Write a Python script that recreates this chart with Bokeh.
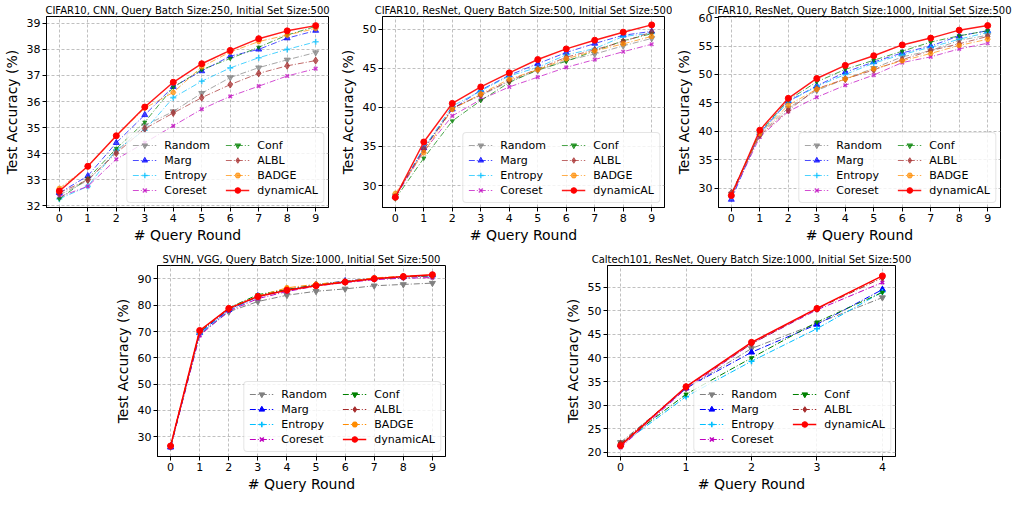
from bokeh.plotting import figure
from bokeh.layouts import column, row
from bokeh.models import Spacer, FixedTicker, Range1d
from bokeh.embed import file_html
from bokeh.resources import INLINE

rounds10 = [0, 1, 2, 3, 4, 5, 6, 7, 8, 9]
rounds5 = [0, 1, 2, 3, 4]

# Panel A: CIFAR10, CNN, batch 250
a_random = [32.42, 32.97, 34.08, 35.08, 35.62, 36.32, 36.92, 37.30, 37.60, 37.88]
a_marg = [32.50, 33.15, 34.42, 35.49, 36.57, 37.17, 37.74, 38.00, 38.43, 38.72]
a_entropy = [32.27, 32.75, 34.15, 34.90, 36.15, 36.78, 37.29, 37.68, 38.00, 38.29]
a_coreset = [32.35, 32.75, 33.79, 34.42, 35.07, 35.71, 36.20, 36.59, 36.98, 37.26]
a_conf = [32.27, 33.05, 34.20, 35.21, 36.55, 37.22, 37.65, 38.08, 38.55, 38.88]
a_albl = [32.50, 33.00, 34.02, 34.96, 35.56, 36.15, 36.65, 37.08, 37.37, 37.57]
a_badge = [32.67, 33.50, 34.68, 35.75, 36.35, 37.33, 37.90, 38.30, 38.55, 38.80]
a_dynamic = [32.57, 33.52, 34.69, 35.79, 36.74, 37.45, 37.96, 38.41, 38.71, 38.91]

# Panel B: CIFAR10, ResNet, batch 500
b_random = [28.7, 34.6, 39.9, 41.5, 43.3, 44.7, 46.0, 46.8, 47.85, 48.8]
b_marg = [28.6, 34.8, 39.75, 42.2, 44.1, 45.57, 47.0, 48.15, 49.2, 49.7]
b_entropy = [28.6, 34.8, 40.15, 42.1, 44.0, 45.1, 46.7, 47.5, 49.05, 49.45]
b_coreset = [28.5, 34.4, 38.9, 41.0, 42.6, 43.85, 45.1, 46.1, 47.1, 48.06]
b_conf = [28.3, 33.5, 38.25, 40.86, 43.16, 44.8, 45.86, 47.2, 48.5, 49.4]
b_albl = [28.6, 34.6, 39.85, 41.6, 43.4, 44.9, 46.4, 47.35, 48.4, 49.6]
b_badge = [29.0, 34.2, 39.75, 41.7, 43.6, 44.8, 46.2, 47.2, 48.1, 49.06]
b_dynamic = [28.5, 35.57, 40.5, 42.6, 44.4, 46.1, 47.46, 48.57, 49.6, 50.53]

# Panel C: CIFAR10, ResNet, batch 1000
c_random = [29.0, 39.5, 44.1, 47.2, 49.2, 51.1, 53.1, 54.2, 56.0, 56.9]
c_marg = [28.0, 39.7, 45.3, 48.0, 50.4, 52.2, 53.8, 55.0, 56.8, 57.7]
c_entropy = [28.5, 39.6, 45.2, 47.9, 50.0, 52.0, 53.5, 54.8, 56.2, 57.4]
c_coreset = [28.5, 39.0, 43.5, 46.0, 48.1, 49.9, 52.1, 53.1, 54.5, 55.5]
c_conf = [28.9, 39.9, 45.5, 48.7, 50.9, 52.5, 54.1, 55.7, 56.8, 57.7]
c_albl = [29.2, 39.3, 43.7, 47.5, 49.2, 50.8, 52.6, 54.2, 55.4, 56.7]
c_badge = [28.7, 39.6, 44.6, 47.4, 49.2, 51.0, 52.4, 53.7, 55.1, 56.2]
c_dynamic = [28.7, 40.2, 45.8, 49.3, 51.6, 53.3, 55.2, 56.4, 57.8, 58.6]

# Panel D: SVHN, VGG, batch 1000
d_random = [26.2, 69.0, 77.5, 81.4, 83.8, 85.3, 86.2, 87.4, 87.9, 88.4]
d_marg = [26.0, 69.5, 78.3, 83.5, 85.9, 87.8, 89.2, 90.2, 90.8, 91.4]
d_entropy = [26.3, 69.0, 78.0, 83.2, 85.6, 87.5, 89.0, 90.0, 90.6, 91.1]
d_coreset = [26.0, 68.5, 77.8, 82.5, 85.2, 87.3, 88.6, 89.7, 90.3, 90.5]
d_conf = [26.4, 69.8, 79.0, 84.0, 86.0, 87.7, 89.0, 90.0, 90.8, 91.3]
d_albl = [26.5, 70.0, 78.5, 83.3, 85.8, 87.6, 88.9, 90.0, 90.7, 91.2]
d_badge = [26.6, 70.2, 78.9, 83.5, 86.6, 88.0, 89.0, 90.4, 91.0, 91.5]
d_dynamic = [26.5, 70.4, 78.8, 83.3, 85.7, 87.4, 88.8, 90.1, 90.9, 91.6]

# Panel E: Caltech101, ResNet, batch 1000 (no BADGE)
e_random = [22.1, 33.5, 42.0, 47.3, 52.8]
e_marg = [21.6, 33.6, 41.2, 47.1, 54.5]
e_entropy = [21.5, 31.8, 39.3, 46.2, 54.0]
e_coreset = [21.0, 33.5, 43.0, 50.2, 56.0]
e_conf = [21.8, 32.3, 40.0, 47.6, 53.9]
e_albl = [21.8, 33.8, 43.0, 50.4, 57.0]
e_dynamic = [21.4, 33.9, 43.3, 50.5, 57.4]

STYLE = {
    "Random": ("#808080", "inverted_triangle", 6),
    "Marg": ("#0000ff", "triangle", 6),
    "Entropy": ("#00bfff", "cross", 6),
    "Coreset": ("#bf00bf", "x", 5),
    "Conf": ("#008000", "inverted_triangle", 4),
    "ALBL": ("#a52a2a", "diamond", 7),
    "BADGE": ("#ff8c00", "hex", 5),
    "dynamicAL": ("#ff0000", "circle", 6),
}

FONT = "DejaVu Sans"


def make_fig(title, xs, series, yr, yticks, xr, width, height, top, right, alpha):
    p = figure(width=width, height=height, output_backend="svg", toolbar_location=None,
               x_range=Range1d(*xr), y_range=Range1d(*yr),
               min_border_left=42, min_border_right=right, min_border_top=top, min_border_bottom=36)
    p.title.text = title
    p.title.align = "center"
    p.title.text_font = FONT
    p.title.text_font_size = "10px"
    p.title.text_font_style = "normal"
    p.title.text_color = "black"
    p.title.standoff = 2
    p.outline_line_color = "black"
    p.outline_line_width = 1
    p.background_fill_color = "white"
    for ax in (p.xaxis, p.yaxis):
        ax.major_label_text_font = FONT
        ax.major_label_text_font_size = "11px"
        ax.major_label_text_color = "black"
        ax.axis_label_text_font = FONT
        ax.axis_label_text_font_size = "14px"
        ax.axis_label_text_font_style = "normal"
        ax.axis_label_text_color = "black"
        ax.minor_tick_line_color = None
        ax.major_tick_in = 0
        ax.major_tick_out = 4
        ax.axis_line_color = "black"
        ax.major_tick_line_color = "black"
    p.xaxis.axis_label = "# Query Round"
    p.yaxis.axis_label = "Test Accuracy (%)"
    p.xaxis.ticker = FixedTicker(ticks=xs)
    p.yaxis.ticker = FixedTicker(ticks=yticks)
    p.xaxis.axis_label_standoff = 2
    p.yaxis.axis_label_standoff = 4
    p.xaxis.major_label_standoff = 2
    p.yaxis.major_label_standoff = 2
    for g in (p.xgrid, p.ygrid):
        g.grid_line_color = "#b0b0b0"
        g.grid_line_dash = "3 2"
        g.grid_line_width = 0.8
    for name, ys in series:
        color, marker, size = STYLE[name]
        if name == "dynamicAL":
            p.line(xs, ys, color=color, line_width=1.5, line_alpha=0.9 if alpha < 1 else 1.0,
                   legend_label=name)
        else:
            p.line(xs, ys, color=color, line_width=1.0, line_dash="6 2 1 2", line_alpha=alpha,
                   legend_label=name)
        lw = 1.6 if marker in ("x", "cross") else 1.0
        p.scatter(xs, ys, marker=marker, size=size, color=color, line_width=lw,
                  fill_alpha=alpha if name != "dynamicAL" else 1.0,
                  line_alpha=alpha if name != "dynamicAL" else 1.0, legend_label=name)
    lg = p.legend[0]
    lg.location = "bottom_right"
    lg.ncols = 2
    lg.nrows = 4
    lg.label_text_font = FONT
    lg.label_text_font_size = "11px"
    lg.label_text_color = "black"
    lg.label_height = 14
    lg.label_width = 60
    lg.glyph_height = 14
    lg.glyph_width = 24
    lg.label_standoff = 8
    lg.spacing = 1
    lg.padding = 5
    lg.margin = 4
    lg.border_line_color = "#cccccc"
    lg.border_line_width = 1
    lg.border_radius = 4
    lg.background_fill_alpha = 0.8
    return p


pa = make_fig("CIFAR10, CNN, Query Batch Size:250, Initial Set Size:500", rounds10,
              [("Random", a_random), ("Marg", a_marg), ("Entropy", a_entropy), ("Coreset", a_coreset),
               ("Conf", a_conf), ("ALBL", a_albl), ("BADGE", a_badge), ("dynamicAL", a_dynamic)],
              (31.94, 39.26), [32, 33, 34, 35, 36, 37, 38, 39], (-0.45, 9.45), 336, 245, 16, 8, 0.7)
pb = make_fig("CIFAR10, ResNet, Query Batch Size:500, Initial Set Size:500", rounds10,
              [("Random", b_random), ("Marg", b_marg), ("Entropy", b_entropy), ("Coreset", b_coreset),
               ("Conf", b_conf), ("ALBL", b_albl), ("BADGE", b_badge), ("dynamicAL", b_dynamic)],
              (27.2, 51.6), [30, 35, 40, 45, 50], (-0.45, 9.45), 336, 245, 16, 8, 0.7)
pc = make_fig("CIFAR10, ResNet, Query Batch Size:1000, Initial Set Size:500", rounds10,
              [("Random", c_random), ("Marg", c_marg), ("Entropy", c_entropy), ("Coreset", c_coreset),
               ("Conf", c_conf), ("ALBL", c_albl), ("BADGE", c_badge), ("dynamicAL", c_dynamic)],
              (26.6, 60.2), [30, 35, 40, 45, 50, 55, 60], (-0.45, 9.45), 342, 245, 16, 14, 0.7)
pd_ = make_fig("SVHN, VGG, Query Batch Size:1000, Initial Set Size:500", rounds10,
               [("Random", d_random), ("Marg", d_marg), ("Entropy", d_entropy), ("Coreset", d_coreset),
                ("Conf", d_conf), ("ALBL", d_albl), ("BADGE", d_badge), ("dynamicAL", d_dynamic)],
               (22.5, 95.1), [30, 40, 50, 60, 70, 80, 90], (-0.45, 9.45), 342, 249, 20, 8, 1.0)
pe = make_fig("Caltech101, ResNet, Query Batch Size:1000, Initial Set Size:500", rounds5,
              [("Random", e_random), ("Marg", e_marg), ("Entropy", e_entropy), ("Coreset", e_coreset),
               ("Conf", e_conf), ("ALBL", e_albl), ("dynamicAL", e_dynamic)],
              (19.1, 59.6), [20, 25, 30, 35, 40, 45, 50, 55], (-0.2, 4.2), 352, 249, 20, 18, 1.0)

layout = column(row(pa, pb, pc),
                row(Spacer(width=111, height=249), pd_, Spacer(width=108, height=249), pe))

open("out.html", "w").write(file_html(layout, INLINE))
